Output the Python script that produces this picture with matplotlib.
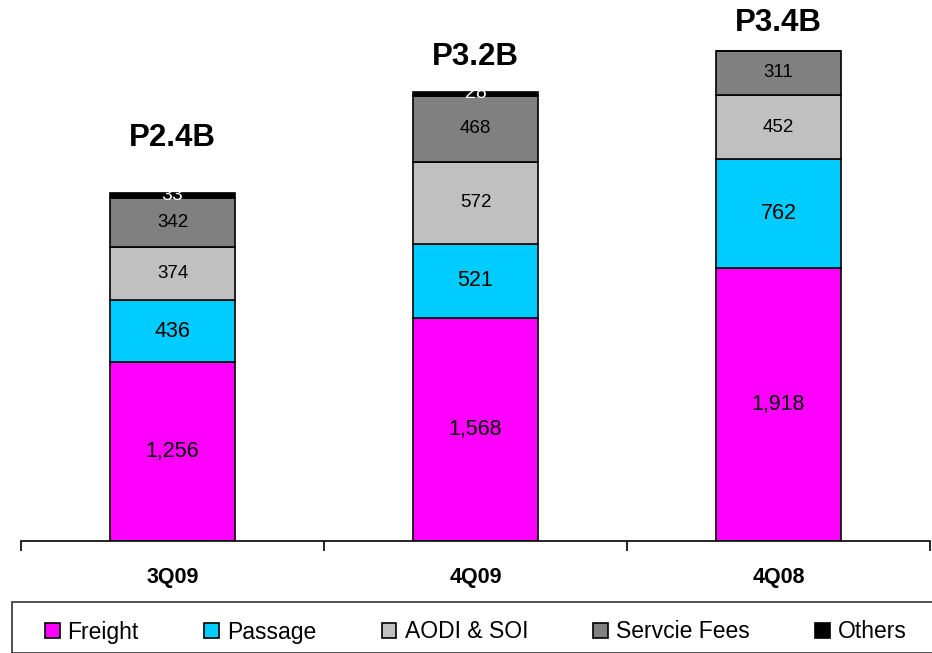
import matplotlib.pyplot as plt
import numpy as np
from matplotlib.patches import Rectangle

plt.rcParams["font.family"] = ["Liberation Sans", "DejaVu Sans"]

# data (million pesos)
quarters = ["3Q09", "4Q09", "4Q08"]
series_names = ["Freight", "Passage", "AODI & SOI", "Servcie Fees", "Others"]
freight = [1256, 1568, 1918]
passage = [436, 521, 762]
aodi_soi = [374, 572, 452]
service_fees = [342, 468, 311]
others = [33, 28, 0]

colors = ["#FF00FF", "#00CCFF", "#C0C0C0", "#808080", "#000000"]
label_colors = ["black", "black", "black", "black", "white"]
label_sizes = [15.5, 15.5, 13.5, 13.5, 14]

series = [freight, passage, aodi_soi, service_fees, others]

fig = plt.figure(figsize=(9.32, 6.53), dpi=100)
ax = fig.add_axes([21 / 932, 112 / 653, 909 / 932, 541 / 653])

x = np.arange(len(quarters))
bottom = np.zeros(len(quarters))
handles = []
for vals, name, col, lc, ls in zip(series, series_names, colors, label_colors, label_sizes):
    vals = np.array(vals, dtype=float)
    bars = ax.bar(x, vals, 0.41, bottom=bottom, color=col, edgecolor="black",
                  linewidth=1.2, label=name)
    handles.append(bars)
    for xi, v, b in zip(x, vals, bottom):
        if v > 0:
            ax.text(xi, b + v / 2, f"{int(v):,}", ha="center", va="center",
                    color=lc, fontsize=ls)
    bottom += vals

# totals above bars (offsets in points as in original slide)
offsets = [40, 25, 20]
for xi, tot, off in zip(x, bottom, offsets):
    ax.annotate(f"P{tot / 1000:.1f}B", (xi, tot), xytext=(0, off),
                textcoords="offset points", ha="center", va="center",
                fontsize=22.5, fontweight="bold")

ax.set_xlim(-0.5, 2.5)
ax.set_ylim(0, 3800)
ax.set_yticks([])
for s in ["top", "right", "left"]:
    ax.spines[s].set_visible(False)
ax.spines["bottom"].set_linewidth(1.2)
ax.set_xticks(x)
ax.set_xticklabels(quarters, fontsize=15.5, fontweight="bold")
ax.tick_params(axis="x", which="major", length=0, pad=19)
ax.set_xticks([-0.5, 0.5, 1.5, 2.5], minor=True)
ax.tick_params(axis="x", which="minor", length=7, width=1.2, direction="out")

# legend box
fig.patches.append(Rectangle((12 / 932, 0), 0.99, (653 - 602) / 653,
                             transform=fig.transFigure, fill=False,
                             edgecolor="#333333", linewidth=1.2))
fig.legend(handles=handles, labels=series_names, loc="center left",
           bbox_to_anchor=(24 / 932, (653 - 632) / 653), ncol=5, frameon=False,
           fontsize=16.5, handlelength=0.65, handleheight=0.65,
           handletextpad=0.35, columnspacing=2.85)

plt.savefig("out.png", dpi=100)
